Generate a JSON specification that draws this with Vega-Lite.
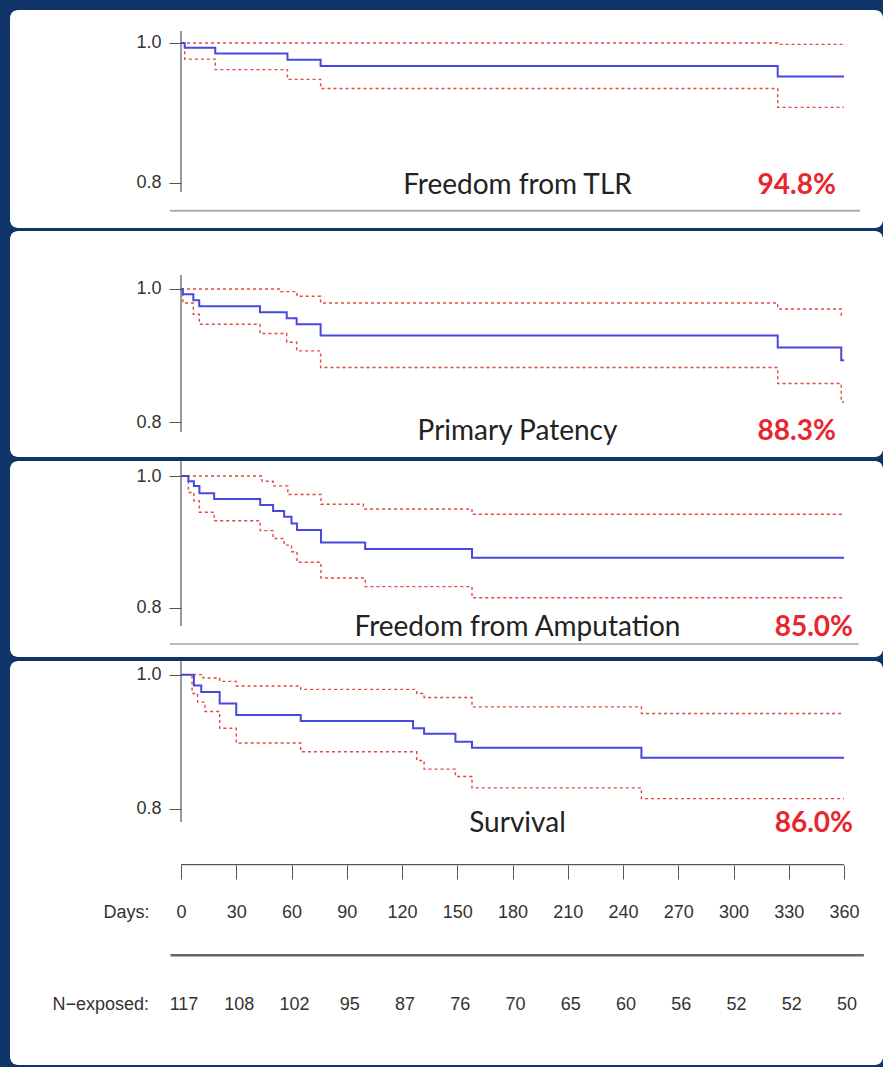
{
  "$schema": "https://vega.github.io/schema/vega-lite/v6.json",
  "background": "#0e3468",
  "padding": {"left": 10, "top": 10, "right": 0, "bottom": 4},
  "spacing": 3,
  "config": {"view": {"stroke": null}, "axis": {"grid": false, "domain": false, "labelFlush": false, "labelOverlap": false}},
  "datasets": {
    "km": [
      {"panel": "TLR", "series": "est", "day": 0, "value": 1},
      {"panel": "TLR", "series": "est", "day": 2, "value": 0.993},
      {"panel": "TLR", "series": "est", "day": 18.6, "value": 0.985},
      {"panel": "TLR", "series": "est", "day": 57.8, "value": 0.976},
      {"panel": "TLR", "series": "est", "day": 75.8, "value": 0.967},
      {"panel": "TLR", "series": "est", "day": 324, "value": 0.952},
      {"panel": "TLR", "series": "est", "day": 360, "value": 0.952},
      {"panel": "TLR", "series": "upper", "day": 0, "value": 1},
      {"panel": "TLR", "series": "upper", "day": 324, "value": 0.998},
      {"panel": "TLR", "series": "upper", "day": 360, "value": 0.998},
      {"panel": "TLR", "series": "lower", "day": 0, "value": 1},
      {"panel": "TLR", "series": "lower", "day": 2, "value": 0.977},
      {"panel": "TLR", "series": "lower", "day": 18.6, "value": 0.962},
      {"panel": "TLR", "series": "lower", "day": 57.8, "value": 0.948},
      {"panel": "TLR", "series": "lower", "day": 75.8, "value": 0.935},
      {"panel": "TLR", "series": "lower", "day": 324, "value": 0.908},
      {"panel": "TLR", "series": "lower", "day": 360, "value": 0.908},

      {"panel": "PP", "series": "est", "day": 0, "value": 1},
      {"panel": "PP", "series": "est", "day": 1, "value": 0.992},
      {"panel": "PP", "series": "est", "day": 6.7, "value": 0.983},
      {"panel": "PP", "series": "est", "day": 9.9, "value": 0.974},
      {"panel": "PP", "series": "est", "day": 42.9, "value": 0.965},
      {"panel": "PP", "series": "est", "day": 57.4, "value": 0.956},
      {"panel": "PP", "series": "est", "day": 62.8, "value": 0.947},
      {"panel": "PP", "series": "est", "day": 75.8, "value": 0.930},
      {"panel": "PP", "series": "est", "day": 324, "value": 0.912},
      {"panel": "PP", "series": "est", "day": 358.5, "value": 0.893},
      {"panel": "PP", "series": "est", "day": 360, "value": 0.893},
      {"panel": "PP", "series": "upper", "day": 0, "value": 1},
      {"panel": "PP", "series": "upper", "day": 54, "value": 0.996},
      {"panel": "PP", "series": "upper", "day": 63, "value": 0.989},
      {"panel": "PP", "series": "upper", "day": 75.8, "value": 0.979},
      {"panel": "PP", "series": "upper", "day": 324, "value": 0.970},
      {"panel": "PP", "series": "upper", "day": 358.5, "value": 0.961},
      {"panel": "PP", "series": "upper", "day": 360, "value": 0.961},
      {"panel": "PP", "series": "lower", "day": 0, "value": 1},
      {"panel": "PP", "series": "lower", "day": 1, "value": 0.979},
      {"panel": "PP", "series": "lower", "day": 6.7, "value": 0.962},
      {"panel": "PP", "series": "lower", "day": 9.9, "value": 0.947},
      {"panel": "PP", "series": "lower", "day": 42.9, "value": 0.933},
      {"panel": "PP", "series": "lower", "day": 57.4, "value": 0.920},
      {"panel": "PP", "series": "lower", "day": 62.8, "value": 0.907},
      {"panel": "PP", "series": "lower", "day": 75.8, "value": 0.882},
      {"panel": "PP", "series": "lower", "day": 324, "value": 0.858},
      {"panel": "PP", "series": "lower", "day": 358.5, "value": 0.830},
      {"panel": "PP", "series": "lower", "day": 360, "value": 0.830},

      {"panel": "AMP", "series": "est", "day": 0, "value": 1},
      {"panel": "AMP", "series": "est", "day": 4, "value": 0.992},
      {"panel": "AMP", "series": "est", "day": 7, "value": 0.985},
      {"panel": "AMP", "series": "est", "day": 10, "value": 0.974},
      {"panel": "AMP", "series": "est", "day": 18, "value": 0.965},
      {"panel": "AMP", "series": "est", "day": 43, "value": 0.956},
      {"panel": "AMP", "series": "est", "day": 50, "value": 0.947},
      {"panel": "AMP", "series": "est", "day": 56, "value": 0.938},
      {"panel": "AMP", "series": "est", "day": 60, "value": 0.928},
      {"panel": "AMP", "series": "est", "day": 63, "value": 0.918},
      {"panel": "AMP", "series": "est", "day": 76, "value": 0.899},
      {"panel": "AMP", "series": "est", "day": 100, "value": 0.889},
      {"panel": "AMP", "series": "est", "day": 158, "value": 0.876},
      {"panel": "AMP", "series": "est", "day": 360, "value": 0.876},
      {"panel": "AMP", "series": "upper", "day": 0, "value": 1},
      {"panel": "AMP", "series": "upper", "day": 44, "value": 0.992},
      {"panel": "AMP", "series": "upper", "day": 50, "value": 0.985},
      {"panel": "AMP", "series": "upper", "day": 58, "value": 0.972},
      {"panel": "AMP", "series": "upper", "day": 76, "value": 0.957},
      {"panel": "AMP", "series": "upper", "day": 99, "value": 0.950},
      {"panel": "AMP", "series": "upper", "day": 158, "value": 0.942},
      {"panel": "AMP", "series": "upper", "day": 360, "value": 0.942},
      {"panel": "AMP", "series": "lower", "day": 0, "value": 1},
      {"panel": "AMP", "series": "lower", "day": 4, "value": 0.975},
      {"panel": "AMP", "series": "lower", "day": 7, "value": 0.962},
      {"panel": "AMP", "series": "lower", "day": 10, "value": 0.945},
      {"panel": "AMP", "series": "lower", "day": 18, "value": 0.932},
      {"panel": "AMP", "series": "lower", "day": 43, "value": 0.917},
      {"panel": "AMP", "series": "lower", "day": 50, "value": 0.905},
      {"panel": "AMP", "series": "lower", "day": 56, "value": 0.895},
      {"panel": "AMP", "series": "lower", "day": 60, "value": 0.885},
      {"panel": "AMP", "series": "lower", "day": 63, "value": 0.869},
      {"panel": "AMP", "series": "lower", "day": 76, "value": 0.845},
      {"panel": "AMP", "series": "lower", "day": 100, "value": 0.832},
      {"panel": "AMP", "series": "lower", "day": 158, "value": 0.815},
      {"panel": "AMP", "series": "lower", "day": 360, "value": 0.815},

      {"panel": "SURV", "series": "est", "day": 0, "value": 1},
      {"panel": "SURV", "series": "est", "day": 7, "value": 0.984},
      {"panel": "SURV", "series": "est", "day": 11, "value": 0.974},
      {"panel": "SURV", "series": "est", "day": 21, "value": 0.957},
      {"panel": "SURV", "series": "est", "day": 30, "value": 0.940},
      {"panel": "SURV", "series": "est", "day": 65, "value": 0.931},
      {"panel": "SURV", "series": "est", "day": 126, "value": 0.920},
      {"panel": "SURV", "series": "est", "day": 132, "value": 0.912},
      {"panel": "SURV", "series": "est", "day": 149, "value": 0.900},
      {"panel": "SURV", "series": "est", "day": 158, "value": 0.891},
      {"panel": "SURV", "series": "est", "day": 250, "value": 0.876},
      {"panel": "SURV", "series": "est", "day": 360, "value": 0.876},
      {"panel": "SURV", "series": "upper", "day": 0, "value": 1},
      {"panel": "SURV", "series": "upper", "day": 12, "value": 0.995},
      {"panel": "SURV", "series": "upper", "day": 21, "value": 0.990},
      {"panel": "SURV", "series": "upper", "day": 30, "value": 0.983},
      {"panel": "SURV", "series": "upper", "day": 65, "value": 0.978},
      {"panel": "SURV", "series": "upper", "day": 128, "value": 0.972},
      {"panel": "SURV", "series": "upper", "day": 132, "value": 0.966},
      {"panel": "SURV", "series": "upper", "day": 158, "value": 0.952},
      {"panel": "SURV", "series": "upper", "day": 250, "value": 0.942},
      {"panel": "SURV", "series": "upper", "day": 360, "value": 0.942},
      {"panel": "SURV", "series": "lower", "day": 0, "value": 1},
      {"panel": "SURV", "series": "lower", "day": 6, "value": 0.972},
      {"panel": "SURV", "series": "lower", "day": 9, "value": 0.959},
      {"panel": "SURV", "series": "lower", "day": 13, "value": 0.945},
      {"panel": "SURV", "series": "lower", "day": 21, "value": 0.920},
      {"panel": "SURV", "series": "lower", "day": 30, "value": 0.898},
      {"panel": "SURV", "series": "lower", "day": 65, "value": 0.885},
      {"panel": "SURV", "series": "lower", "day": 128, "value": 0.872},
      {"panel": "SURV", "series": "lower", "day": 132, "value": 0.859},
      {"panel": "SURV", "series": "lower", "day": 149, "value": 0.848},
      {"panel": "SURV", "series": "lower", "day": 158, "value": 0.831},
      {"panel": "SURV", "series": "lower", "day": 250, "value": 0.815},
      {"panel": "SURV", "series": "lower", "day": 360, "value": 0.815}
    ],
    "titles": [
      {"panel": "TLR", "title": "Freedom from TLR", "result": "94.8%"},
      {"panel": "PP", "title": "Primary Patency", "result": "88.3%"},
      {"panel": "AMP", "title": "Freedom from Amputation", "result": "85.0%"},
      {"panel": "SURV", "title": "Survival", "result": "86.0%"}
    ],
    "risk": [
      {"day": 0, "n": 117}, {"day": 30, "n": 108}, {"day": 60, "n": 102}, {"day": 90, "n": 95},
      {"day": 120, "n": 87}, {"day": 150, "n": 76}, {"day": 180, "n": 70}, {"day": 210, "n": 65},
      {"day": 240, "n": 60}, {"day": 270, "n": 56}, {"day": 300, "n": 52}, {"day": 330, "n": 52},
      {"day": 360, "n": 50}
    ],
    "one": [{}]
  },
  "vconcat": [
    {
      "width": 873, "height": 218,
      "view": {"fill": "white", "stroke": null, "cornerRadius": 8},
      "resolve": {"axis": {"x": "independent", "y": "independent"}},
      "layer": [
        {
          "data": {"name": "km"},
          "transform": [{"filter": "datum.panel === 'TLR' && datum.series !== 'est'"}],
          "mark": {"type": "line", "interpolate": "step-after", "color": "#e4473f", "strokeDash": [3, 3], "strokeWidth": 1.4},
          "encoding": {
            "x": {"field": "day", "type": "quantitative", "scale": {"domain": [-92.85, 381.17], "nice": false, "zero": false}, "axis": null},
            "y": {"field": "value", "type": "quantitative", "scale": {"domain": [0.7357, 1.0471], "nice": false, "zero": false},
              "axis": {"values": [0.8, 1.0], "format": ".1f", "offset": -171, "tickSize": 12, "labelPadding": 8, "labelFontSize": 18, "labelFont": "Liberation Sans", "labelColor": "#333", "tickColor": "#555", "title": null}},
            "detail": {"field": "series"}
          }
        },
        {
          "data": {"name": "km"},
          "transform": [{"filter": "datum.panel === 'TLR' && datum.series === 'est'"}],
          "mark": {"type": "line", "interpolate": "step-after", "color": "#4848e0", "strokeWidth": 2},
          "encoding": {
            "x": {"field": "day", "type": "quantitative", "axis": null},
            "y": {"field": "value", "type": "quantitative", "axis": null}
          }
        },
        {
          "data": {"name": "one"},
          "mark": {"type": "rule", "color": "#555", "strokeWidth": 1.2},
          "encoding": {"x": {"datum": 0, "axis": null}, "y": {"datum": 0.7871, "axis": null}, "y2": {"datum": 1.0171}}
        },
        {
          "data": {"name": "one"},
          "mark": {"type": "rule", "color": "#aaa", "strokeWidth": 2},
          "encoding": {"x": {"datum": -6, "axis": null}, "x2": {"datum": 368.7}, "y": {"datum": 0.7604, "axis": null}}
        },
        {
          "data": {"name": "titles"},
          "transform": [{"filter": "datum.panel === 'TLR'"}],
          "mark": {"type": "text", "font": "Lato", "fontSize": 28, "color": "#222", "align": "center", "baseline": "middle"},
          "encoding": {"x": {"datum": 182.7, "axis": null}, "y": {"datum": 0.7957, "axis": null}, "text": {"field": "title"}}
        },
        {
          "data": {"name": "titles"},
          "transform": [{"filter": "datum.panel === 'TLR'"}],
          "mark": {"type": "text", "font": "Lato", "fontSize": 28, "fontWeight": "bold", "color": "#e8262d", "align": "right", "baseline": "middle"},
          "encoding": {"x": {"datum": 355.6, "axis": null}, "y": {"datum": 0.7957, "axis": null}, "text": {"field": "result"}}
        }
      ]
    },
    {
      "width": 873, "height": 226,
      "view": {"fill": "white", "stroke": null, "cornerRadius": 8},
      "resolve": {"axis": {"x": "independent", "y": "independent"}},
      "layer": [
        {
          "data": {"name": "km"},
          "transform": [{"filter": "datum.panel === 'PP' && datum.series !== 'est'"}],
          "mark": {"type": "line", "interpolate": "step-after", "color": "#e4473f", "strokeDash": [3, 3], "strokeWidth": 1.4},
          "encoding": {
            "x": {"field": "day", "type": "quantitative", "scale": {"domain": [-92.85, 381.17], "nice": false, "zero": false}, "axis": null},
            "y": {"field": "value", "type": "quantitative", "scale": {"domain": [0.7474, 1.0872], "nice": false, "zero": false},
              "axis": {"values": [0.8, 1.0], "format": ".1f", "offset": -171, "tickSize": 12, "labelPadding": 8, "labelFontSize": 18, "labelFont": "Liberation Sans", "labelColor": "#333", "tickColor": "#555", "title": null}},
            "detail": {"field": "series"}
          }
        },
        {
          "data": {"name": "km"},
          "transform": [{"filter": "datum.panel === 'PP' && datum.series === 'est'"}],
          "mark": {"type": "line", "interpolate": "step-after", "color": "#4848e0", "strokeWidth": 2},
          "encoding": {
            "x": {"field": "day", "type": "quantitative", "axis": null},
            "y": {"field": "value", "type": "quantitative", "axis": null}
          }
        },
        {
          "data": {"name": "one"},
          "mark": {"type": "rule", "color": "#555", "strokeWidth": 1.2},
          "encoding": {"x": {"datum": 0, "axis": null}, "y": {"datum": 0.785, "axis": null}, "y2": {"datum": 1.0211}}
        },
        {
          "data": {"name": "titles"},
          "transform": [{"filter": "datum.panel === 'PP'"}],
          "mark": {"type": "text", "font": "Lato", "fontSize": 28, "color": "#222", "align": "center", "baseline": "middle"},
          "encoding": {"x": {"datum": 182.7, "axis": null}, "y": {"datum": 0.785, "axis": null}, "text": {"field": "title"}}
        },
        {
          "data": {"name": "titles"},
          "transform": [{"filter": "datum.panel === 'PP'"}],
          "mark": {"type": "text", "font": "Lato", "fontSize": 28, "fontWeight": "bold", "color": "#e8262d", "align": "right", "baseline": "middle"},
          "encoding": {"x": {"datum": 355.6, "axis": null}, "y": {"datum": 0.785, "axis": null}, "text": {"field": "result"}}
        }
      ]
    },
    {
      "width": 873, "height": 196,
      "view": {"fill": "white", "stroke": null, "cornerRadius": 8},
      "resolve": {"axis": {"x": "independent", "y": "independent"}},
      "layer": [
        {
          "data": {"name": "km"},
          "transform": [{"filter": "datum.panel === 'AMP' && datum.series !== 'est'"}],
          "mark": {"type": "line", "interpolate": "step-after", "color": "#e4473f", "strokeDash": [3, 3], "strokeWidth": 1.4},
          "encoding": {
            "x": {"field": "day", "type": "quantitative", "scale": {"domain": [-92.85, 381.17], "nice": false, "zero": false}, "axis": null},
            "y": {"field": "value", "type": "quantitative", "scale": {"domain": [0.7251, 1.0228], "nice": false, "zero": false},
              "axis": {"values": [0.8, 1.0], "format": ".1f", "offset": -171, "tickSize": 12, "labelPadding": 8, "labelFontSize": 18, "labelFont": "Liberation Sans", "labelColor": "#333", "tickColor": "#555", "title": null}},
            "detail": {"field": "series"}
          }
        },
        {
          "data": {"name": "km"},
          "transform": [{"filter": "datum.panel === 'AMP' && datum.series === 'est'"}],
          "mark": {"type": "line", "interpolate": "step-after", "color": "#4848e0", "strokeWidth": 2},
          "encoding": {
            "x": {"field": "day", "type": "quantitative", "axis": null},
            "y": {"field": "value", "type": "quantitative", "axis": null}
          }
        },
        {
          "data": {"name": "one"},
          "mark": {"type": "rule", "color": "#555", "strokeWidth": 1.2},
          "encoding": {"x": {"datum": 0, "axis": null}, "y": {"datum": 0.7722, "axis": null}, "y2": {"datum": 1.0228}}
        },
        {
          "data": {"name": "one"},
          "mark": {"type": "rule", "color": "#bbb", "strokeWidth": 2},
          "encoding": {"x": {"datum": -6, "axis": null}, "x2": {"datum": 368}, "y": {"datum": 0.7448, "axis": null}}
        },
        {
          "data": {"name": "titles"},
          "transform": [{"filter": "datum.panel === 'AMP'"}],
          "mark": {"type": "text", "font": "Lato", "fontSize": 28, "color": "#222", "align": "center", "baseline": "middle"},
          "encoding": {"x": {"datum": 182.7, "axis": null}, "y": {"datum": 0.7691, "axis": null}, "text": {"field": "title"}}
        },
        {
          "data": {"name": "titles"},
          "transform": [{"filter": "datum.panel === 'AMP'"}],
          "mark": {"type": "text", "font": "Lato", "fontSize": 28, "fontWeight": "bold", "color": "#e8262d", "align": "right", "baseline": "middle"},
          "encoding": {"x": {"datum": 364.9, "axis": null}, "y": {"datum": 0.7691, "axis": null}, "text": {"field": "result"}}
        }
      ]
    },
    {
      "width": 873, "height": 404,
      "view": {"fill": "white", "stroke": null, "cornerRadius": 8},
      "resolve": {"axis": {"x": "independent", "y": "independent"}},
      "layer": [
        {
          "data": {"name": "km"},
          "transform": [{"filter": "datum.panel === 'SURV' && datum.series !== 'est'"}],
          "mark": {"type": "line", "interpolate": "step-after", "color": "#e4473f", "strokeDash": [3, 3], "strokeWidth": 1.4},
          "encoding": {
            "x": {"field": "day", "type": "quantitative", "scale": {"domain": [-92.85, 381.17], "nice": false, "zero": false},
              "axis": {"values": [0, 30, 60, 90, 120, 150, 180, 210, 240, 270, 300, 330, 360], "offset": -200, "tickSize": 14, "tickColor": "#555", "labelBaseline": "middle", "labelPadding": 33, "labelFontSize": 18, "labelFont": "Liberation Sans", "labelColor": "#333",
                "title": "Days:", "titleX": 139, "titleY": 47, "titleAlign": "right", "titleBaseline": "middle", "titleFontWeight": "normal", "titleFontSize": 18, "titleFont": "Liberation Sans", "titleColor": "#333"}},
            "y": {"field": "value", "type": "quantitative", "scale": {"domain": [0.4175, 1.0204], "nice": false, "zero": false},
              "axis": {"values": [0.8, 1.0], "format": ".1f", "offset": -171, "tickSize": 12, "labelPadding": 8, "labelFontSize": 18, "labelFont": "Liberation Sans", "labelColor": "#333", "tickColor": "#555", "title": null}},
            "detail": {"field": "series"}
          }
        },
        {
          "data": {"name": "km"},
          "transform": [{"filter": "datum.panel === 'SURV' && datum.series === 'est'"}],
          "mark": {"type": "line", "interpolate": "step-after", "color": "#4848e0", "strokeWidth": 2},
          "encoding": {
            "x": {"field": "day", "type": "quantitative", "axis": null},
            "y": {"field": "value", "type": "quantitative", "axis": null}
          }
        },
        {
          "data": {"name": "one"},
          "mark": {"type": "rule", "color": "#555", "strokeWidth": 1.2},
          "encoding": {"x": {"datum": 0, "axis": null}, "y": {"datum": 0.7801, "axis": null}, "y2": {"datum": 1.0204}}
        },
        {
          "data": {"name": "one"},
          "mark": {"type": "rule", "color": "#555", "strokeWidth": 1.2},
          "encoding": {"x": {"datum": 0, "axis": null}, "x2": {"datum": 360}, "y": {"datum": 0.7164, "axis": null}}
        },
        {
          "data": {"name": "one"},
          "mark": {"type": "rule", "color": "#666", "strokeWidth": 2.5},
          "encoding": {"x": {"datum": -5.7, "axis": null}, "x2": {"datum": 370.8}, "y": {"datum": 0.5812, "axis": null}}
        },
        {
          "data": {"name": "risk"},
          "mark": {"type": "text", "font": "Liberation Sans", "fontSize": 18, "color": "#333", "align": "center", "baseline": "middle", "dx": 3},
          "encoding": {"x": {"field": "day", "type": "quantitative", "axis": null}, "y": {"datum": 0.5066, "axis": null}, "text": {"field": "n"}}
        },
        {
          "data": {"name": "one"},
          "mark": {"type": "text", "font": "Liberation Sans", "fontSize": 18, "color": "#333", "align": "right", "baseline": "middle"},
          "encoding": {"x": {"datum": -17.4, "axis": null}, "y": {"datum": 0.5066, "axis": null}, "text": {"value": "N\u2212exposed:"}}
        },
        {
          "data": {"name": "titles"},
          "transform": [{"filter": "datum.panel === 'SURV'"}],
          "mark": {"type": "text", "font": "Lato", "fontSize": 28, "color": "#222", "align": "center", "baseline": "middle"},
          "encoding": {"x": {"datum": 182.7, "axis": null}, "y": {"datum": 0.7772, "axis": null}, "text": {"field": "title"}}
        },
        {
          "data": {"name": "titles"},
          "transform": [{"filter": "datum.panel === 'SURV'"}],
          "mark": {"type": "text", "font": "Lato", "fontSize": 28, "fontWeight": "bold", "color": "#e8262d", "align": "right", "baseline": "middle"},
          "encoding": {"x": {"datum": 364.9, "axis": null}, "y": {"datum": 0.7772, "axis": null}, "text": {"field": "result"}}
        }
      ]
    }
  ]
}
